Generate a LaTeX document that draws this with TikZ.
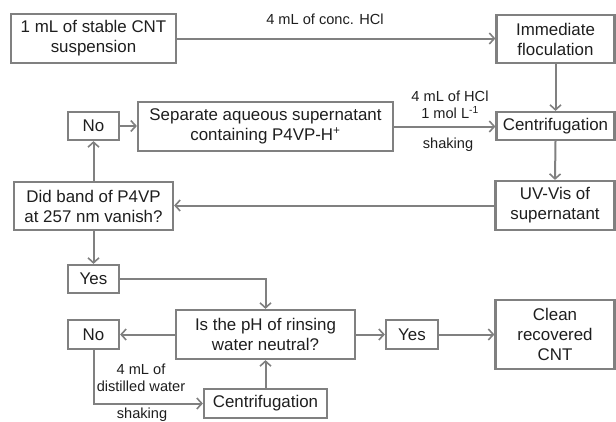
\documentclass[tikz,border=0pt]{standalone}
\usepackage{fontspec}
\setmainfont{Liberation Sans}
\usetikzlibrary{arrows.meta}
\definecolor{ln}{HTML}{808080}
\definecolor{tx}{HTML}{1E1E1E}
\begin{document}
\begin{tikzpicture}[x=1pt,y=-1pt,
  box/.style={draw=ln,line width=2.2pt,text=tx,align=center,inner sep=0pt,
    font=\fontsize{16.9}{20}\selectfont},
  lbl/.style={text=tx,align=center,inner sep=0pt,font=\fontsize{14.6}{17}\selectfont},
  conn/.style={draw=ln,line width=2pt,-{Straight Barb[length=5pt,width=11pt,line width=1.6pt]}}]
\useasboundingbox (0,0) rectangle (616,421);
\node[box,minimum width=165pt,minimum height=49pt] (b1) at (93.5,38.5) {1 mL of stable CNT\\suspension};
\node[box,minimum width=118pt,minimum height=48pt] (flo) at (555.5,39) {Immediate\\floculation};
\node[box,minimum width=118pt,minimum height=28pt] (c1) at (555.5,126) {Centrifugation};
\node[box,minimum width=255pt,minimum height=49pt] (sep) at (265.5,126.5) {Separate aqueous supernatant\\containing P4VP-H\textsuperscript{+}};
\node[box,minimum width=51pt,minimum height=28pt] (no1) at (93.5,126) {No};
\node[box,minimum width=159pt,minimum height=48pt] (did) at (93.5,206) {Did band of P4VP\\at 257 nm vanish?};
\node[box,minimum width=119pt,minimum height=49pt] (uv) at (555,205.5) {UV-Vis of\\supernatant};
\node[box,minimum width=51pt,minimum height=28pt] (yes1) at (93.5,279) {Yes};
\node[box,minimum width=179pt,minimum height=49pt] (ph) at (265.5,334.5) {Is the pH of rinsing\\water neutral?};
\node[box,minimum width=52pt,minimum height=29pt] (yes2) at (412,334.5) {Yes};
\node[box,minimum width=119pt,minimum height=69pt] (cl) at (555,334.5) {Clean\\recovered\\CNT};
\node[box,minimum width=51pt,minimum height=29pt] (no2) at (93.5,334.5) {No};
\node[box,minimum width=123pt,minimum height=29pt] (c2) at (265.5,403.5) {Centrifugation};
\node[lbl] (l1) at (325,19) {4 mL of conc. HCl};
\node[lbl] (l2) at (450,105) {4 mL of HCl\\1 mol L\textsuperscript{-1}};
\node[lbl] (l3) at (448,145) {shaking};
\node[lbl] (l4) at (141,378) {4 mL of\\distilled water};
\node[lbl] (l5) at (142,415) {shaking};
\draw[conn] (b1.east) -- (flo.west |- b1.east);
\draw[conn] (flo.south) -- (c1.north);
\draw[conn] (sep.east) -- (c1.west |- sep.east);
\draw[conn] (no1.east) -- (sep.west |- no1.east);
\draw[conn] (c1.south) -- (uv.north);
\draw[conn] (uv.west) -- (did.east |- uv.west);
\draw[conn] (did.north) -- (no1.south);
\draw[conn] (did.south) -- (yes1.north);
\draw[conn] (yes1.east) -| (ph.north);
\draw[conn] (ph.east) -- (yes2.west);
\draw[conn] (yes2.east) -- (cl.west |- yes2.east);
\draw[conn] (ph.west) -- (no2.east);
\draw[conn] (c2.north) -- (ph.south);
\draw[conn] (no2.south) |- (c2.west);
\end{tikzpicture}
\end{document}
